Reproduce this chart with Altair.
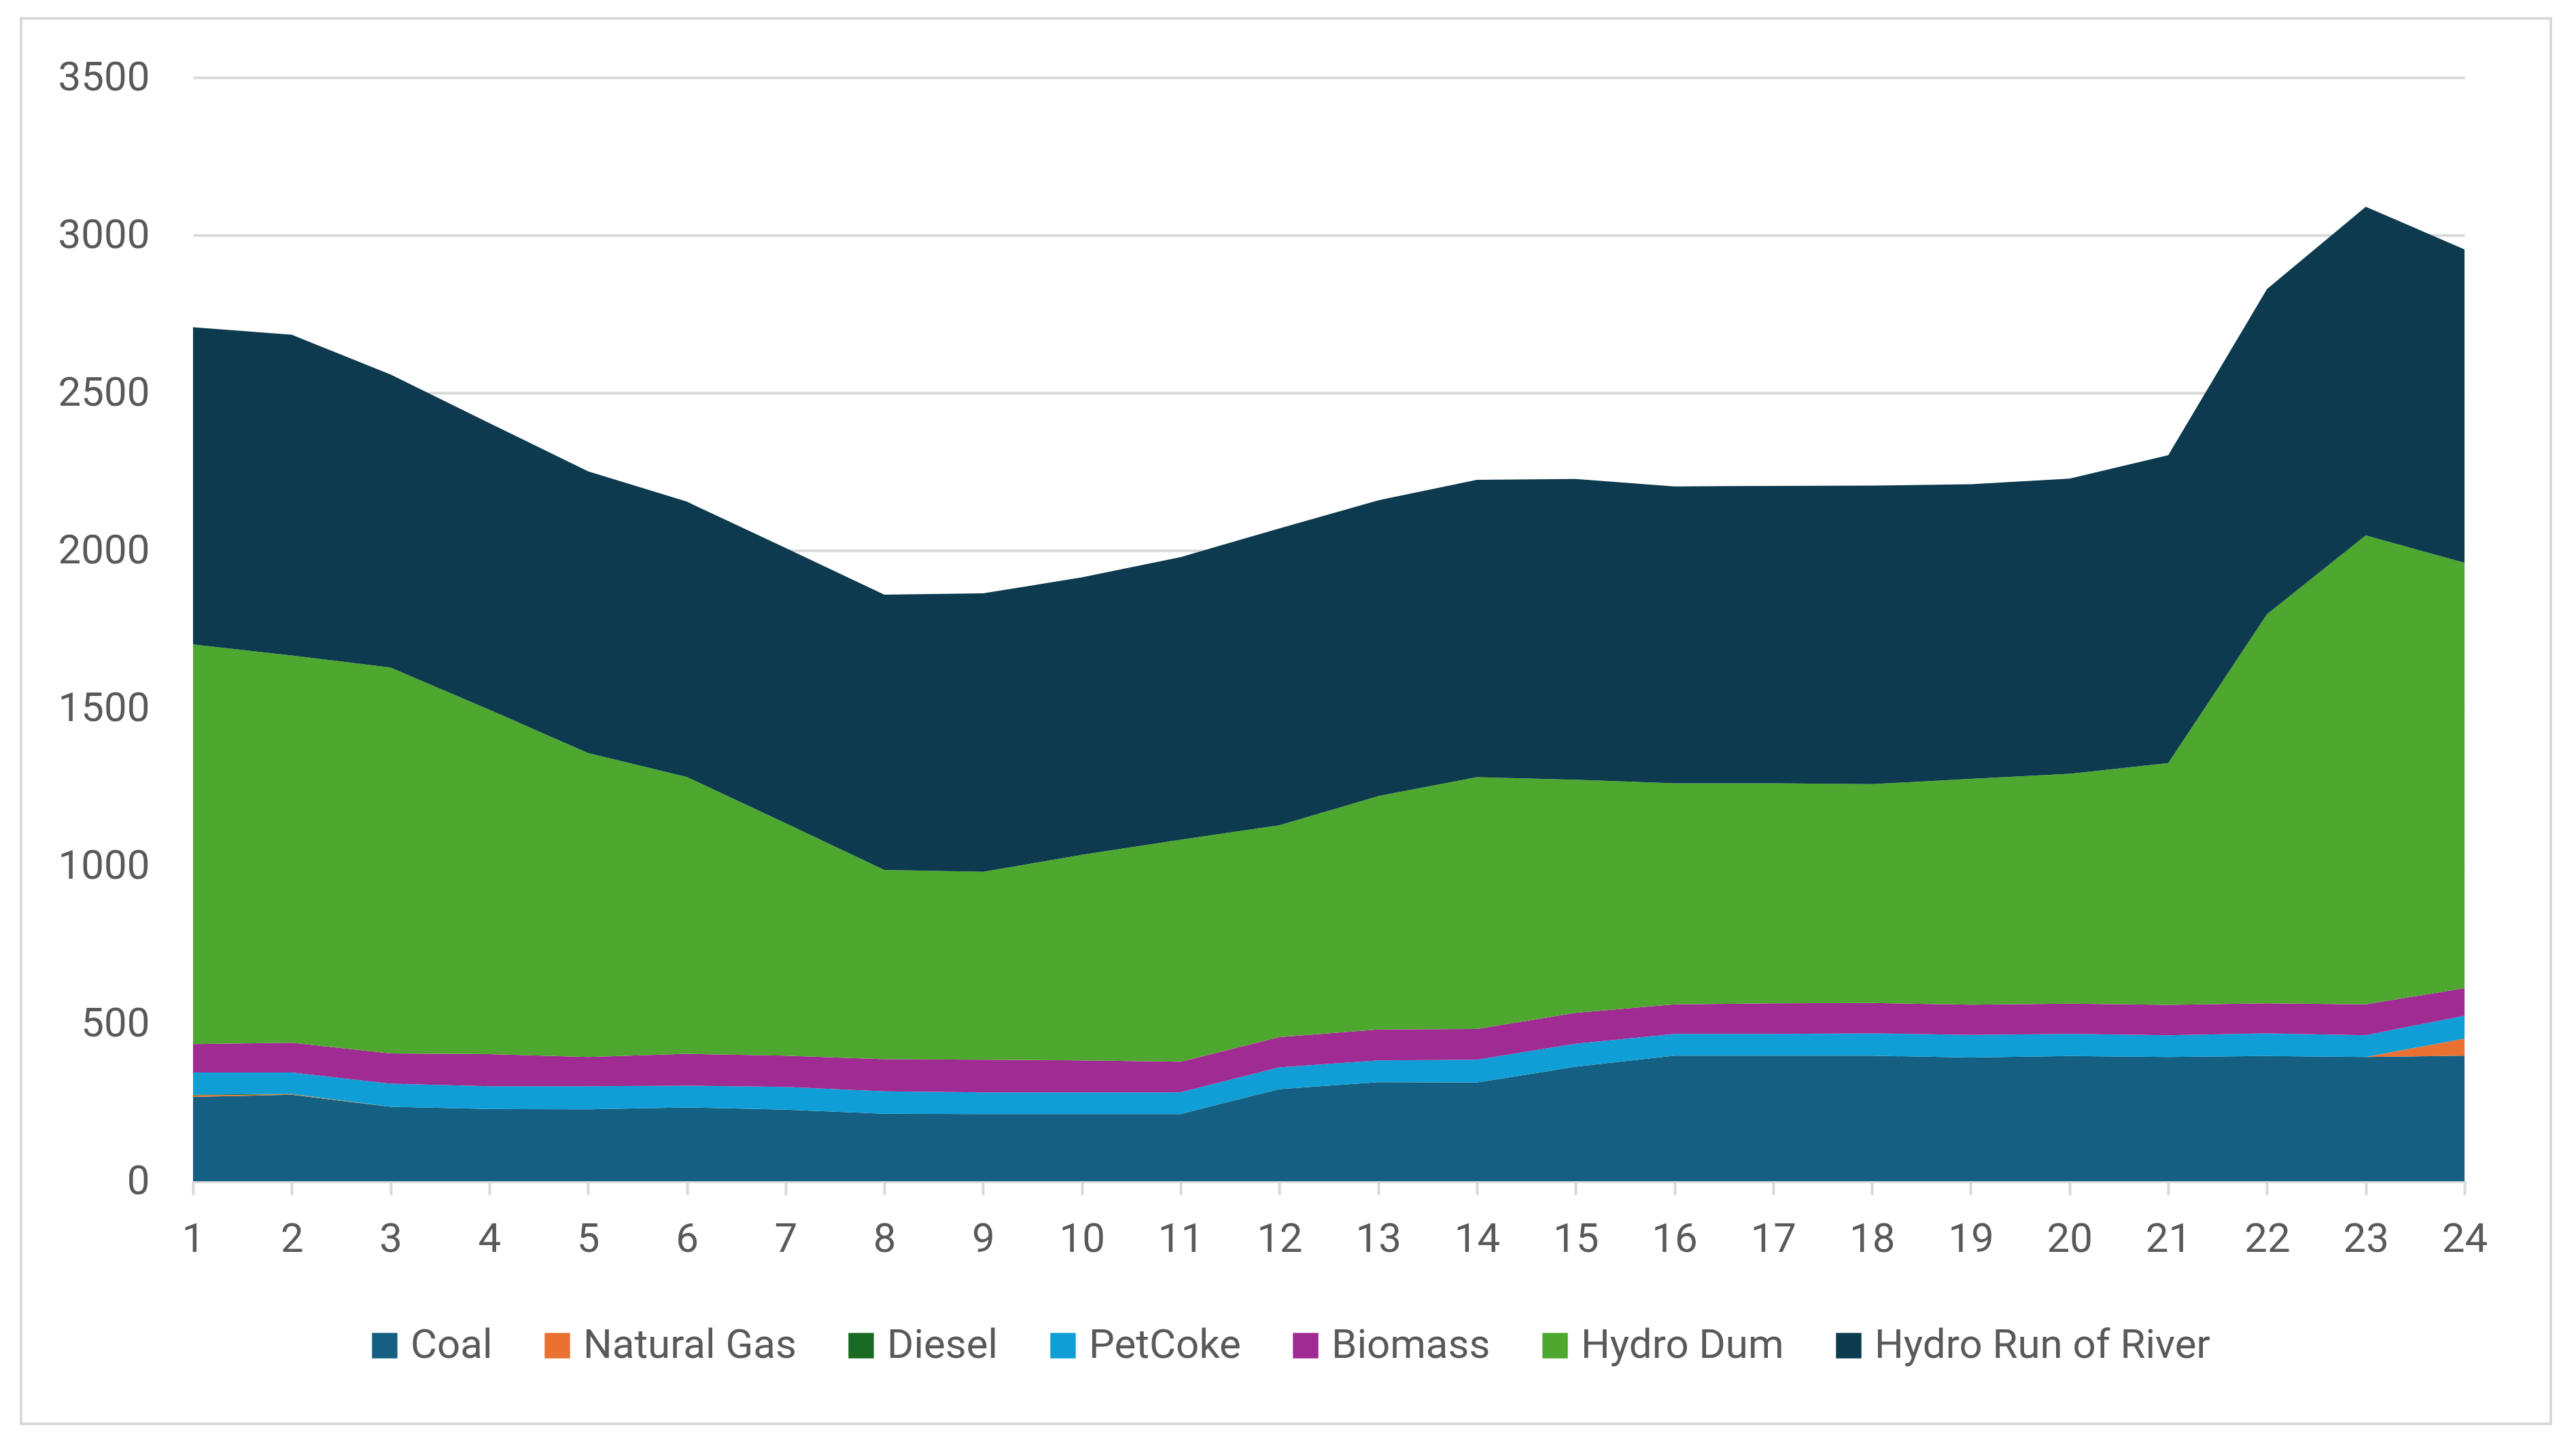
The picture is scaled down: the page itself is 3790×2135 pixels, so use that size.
import altair as alt
import pandas as pd

hours = list(range(1, 25))
series_names = ["Coal", "Natural Gas", "Diesel", "PetCoke", "Biomass", "Hydro Dum", "Hydro Run of River"]
series_colors = ["#156082", "#e97132", "#196b24", "#0f9ed5", "#a02b93", "#4ea72e", "#0d3a4e"]

coal = [267, 274, 236, 229, 228, 234, 227, 214, 213, 213, 213, 292,
        314, 313, 363, 398, 398, 398, 392, 397, 394, 397, 394, 398]
natural_gas = [5, 2, 0, 0, 0, 0, 0, 0, 0, 0, 0, 0,
               0, 0, 0, 0, 0, 0, 0, 0, 0, 0, 0, 54]
diesel = [3, 1, 0, 0, 0, 0, 0, 0, 0, 0, 0, 0,
          0, 0, 0, 0, 0, 0, 0, 0, 0, 0, 0, 0]
petcoke = [70, 68, 73, 72, 73, 69, 72, 71, 69, 69, 69, 69,
           69, 72, 73, 69, 69, 71, 72, 70, 69, 72, 69, 73]
biomass = [90, 94, 96, 102, 93, 101, 99, 102, 103, 101, 97, 96,
           98, 98, 98, 94, 97, 96, 96, 96, 96, 95, 98, 87]
hydro_dum = [1267, 1228, 1224, 1092, 964, 878, 737, 600, 596, 652, 704, 672,
             740, 798, 739, 701, 698, 694, 716, 729, 767, 1234, 1487, 1349]
hydro_ror = [1006, 1017, 929, 909, 893, 873, 873, 873, 883, 880, 896, 941,
             938, 943, 954, 941, 943, 947, 934, 936, 976, 1031, 1042, 994]

all_series = [coal, natural_gas, diesel, petcoke, biomass, hydro_dum, hydro_ror]

rows = []
for idx, (name, vals) in enumerate(zip(series_names, all_series)):
    for h, v in zip(hours, vals):
        rows.append({"hour": h, "source": name, "value": v, "order": idx})
df = pd.DataFrame(rows)

FONT = "Roboto"
TEXT = "#595959"
GRID = "#d9d9d9"
FS = 60

areas = alt.Chart(df).mark_area(interpolate="linear", strokeWidth=0).encode(
    x=alt.X("hour:Q",
            scale=alt.Scale(domain=[1, 24], nice=False, zero=False),
            axis=alt.Axis(values=hours, title=None, grid=False, format="d",
                          domain=True, domainColor=GRID, domainWidth=5,
                          ticks=True, tickColor=GRID, tickWidth=4, tickSize=20,
                          labelFont=FONT, labelFontSize=FS, labelColor=TEXT,
                          labelPadding=36, labelFlush=False)),
    y=alt.Y("value:Q", stack="zero",
            scale=alt.Scale(domain=[0, 3500], nice=False),
            axis=alt.Axis(values=list(range(0, 3501, 500)), title=None, format="d",
                          grid=True, gridColor=GRID, gridWidth=4,
                          domain=False, ticks=False,
                          labelFont=FONT, labelFontSize=FS, labelColor=TEXT,
                          labelPadding=64)),
    color=alt.Color("source:N",
                    scale=alt.Scale(domain=series_names, range=series_colors),
                    legend=alt.Legend(title=None, orient="none", direction="horizontal",
                                      columns=7, legendX=252, legendY=1836,
                                      symbolType="square", symbolSize=1400,
                                      symbolStrokeWidth=0, symbolOpacity=1,
                                      labelFont=FONT, labelFontSize=FS, labelColor=TEXT,
                                      labelOffset=8, columnPadding=65,
                                      labelLimit=1000)),
    order=alt.Order("order:Q"),
)

frame = alt.Chart(pd.DataFrame({"a": [0]})).mark_rect(
    fill=None, stroke=GRID, strokeWidth=4, clip=False
).encode(
    x=alt.value(-253), x2=alt.value(3469), y=alt.value(-87), y2=alt.value(1981)
)

chart = alt.layer(areas, frame).properties(
    width=3342, height=1624,
    autosize=alt.AutoSizeParams(type="none"),
    padding={"left": 276, "top": 106, "right": 140, "bottom": 380},
    background="white",
).configure_view(stroke=None)

chart.save("out.html", embed_options={"renderer": "svg", "actions": False})
